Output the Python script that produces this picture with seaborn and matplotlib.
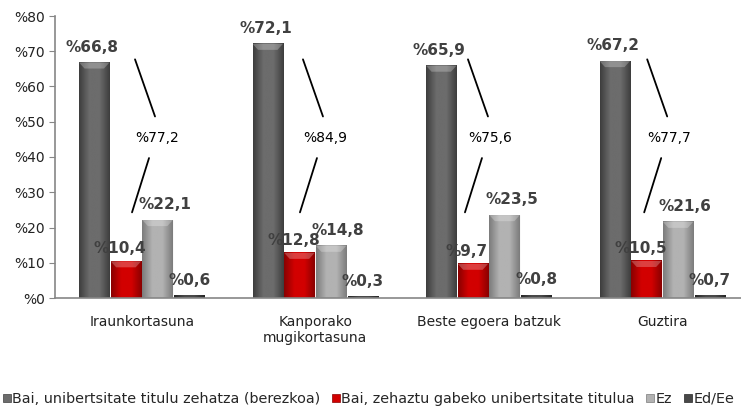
import numpy as np
import pandas as pd
import matplotlib
matplotlib.use("Agg")
import matplotlib.pyplot as plt
import seaborn as sns
from matplotlib.colors import LinearSegmentedColormap
from matplotlib.patches import Patch, Polygon

# Data
categories = ["Iraunkortasuna", "Kanporako\nmugikortasuna", "Beste egoera batzuk", "Guztira"]
series = ["Bai, unibertsitate titulu zehatza (berezkoa)",
          "Bai, zehaztu gabeko unibertsitate titulua", "Ez", "Ed/Ee"]
zehatza = [66.8, 72.1, 65.9, 67.2]
zehaztu_gabe = [10.4, 12.8, 9.7, 10.5]
ez = [22.1, 14.8, 23.5, 21.6]
ed_ee = [0.6, 0.3, 0.8, 0.7]
totals = [77.2, 84.9, 75.6, 77.7]

# styles: (edge colour, middle colour) for the shaded bars
shades = {
    series[0]: ("#3e3e3e", "#6c6c6c"),
    series[1]: ("#8a0000", "#d20000"),
    series[2]: ("#7c7c7c", "#b2b2b2"),
    series[3]: ("#262626", "#484848"),
}
label_dx = [-2, -6, 7, 0]      # pixel shift of value labels per series
label_dy = [8, 5, 8, 8]
total_dx = [0.088, 0.056, 0.007, 0.04]  # sum label shift per group (category units)

sns.set_style("white")
plt.rcParams["font.family"] = ["DejaVu Sans"]

df = pd.DataFrame({
    "kategoria": np.repeat(categories, 4),
    "seriea": series * len(categories),
    "balioa": [v for row in zip(zehatza, zehaztu_gabe, ez, ed_ee) for v in row],
})

fig = plt.figure(figsize=(7.41, 4.07), dpi=100)
ax = fig.add_axes([55 / 741, 1 - 298 / 407, 694 / 741, 282 / 407])

palette = {s: shades[s][1] for s in series}
sns.barplot(data=df, x="kategoria", y="balioa", hue="seriea", hue_order=series,
            order=categories, palette=palette, width=0.73, gap=0.04,
            saturation=1, legend=False, ax=ax, zorder=2)

px = 1 / 173.5  # one pixel in category units
slot = 0.73 / 4
for p in list(ax.patches):
    x0, w, h = p.get_x(), p.get_width(), p.get_height()
    xc = x0 + w / 2
    cat = int(round(xc))
    si = int(round((xc - cat + 0.365) / slot - 0.5))
    edge, mid = shades[series[si]]
    cmap = LinearSegmentedColormap.from_list("b", [edge, mid, mid, edge])
    ax.imshow(np.linspace(0, 1, 50)[np.newaxis, :], extent=(x0, x0 + w, 0, h),
              cmap=cmap, aspect="auto", zorder=2.1, interpolation="bilinear")
    bev = 1.7
    if h > 2 * bev:
        top = Polygon([(x0, h), (x0 + w, h), (x0 + w - 0.18 * w, h - bev),
                       (x0 + 0.18 * w, h - bev)],
                      closed=True, facecolor="white", alpha=0.25, lw=0, zorder=2.2)
        ax.add_patch(top)
    p.set_edgecolor("white")
    p.set_linewidth(0.6)
    ax.annotate(f"%{h:.1f}".replace(".", ","), (xc, h),
                xytext=(label_dx[si], label_dy[si]), textcoords="offset pixels",
                ha="center", va="bottom", fontsize=11, fontweight="bold",
                color="#404040", zorder=3)

# sum labels with their leader lines
for i, t in enumerate(totals):
    lx = i + total_dx[i]
    ax.text(lx, 45.5, f"%{t:.1f}".replace(".", ","), ha="center", va="center",
            fontsize=10, color="black", zorder=4)
    ax.plot([lx - 22 * px, lx - 2 * px], [67.7, 51.5], color="black", lw=1.3, zorder=4)
    ax.plot([lx - 8 * px, lx - 25 * px], [39.7, 24.3], color="black", lw=1.3, zorder=4)

ax.set_xlim(-0.5, 3.5)
ax.set_ylim(0, 80)
ax.set_yticks(range(0, 81, 10))
ax.set_yticklabels([f"%{v}" for v in range(0, 81, 10)], fontsize=10, color="#222222")
ax.set_xticks([0.5, 1.5, 2.5], minor=True)
ax.set_xticklabels(categories, fontsize=10, color="#222222")
ax.tick_params(axis="x", which="major", length=0, pad=12)
ax.tick_params(axis="x", which="minor", length=4, color="#868686", direction="out")
ax.tick_params(axis="y", length=4, color="#868686", direction="out", pad=3, left=True)
ax.set_xlabel("")
ax.set_ylabel("")
for side in ["top", "right"]:
    ax.spines[side].set_visible(False)
for side in ["left", "bottom"]:
    ax.spines[side].set_color("#868686")
    ax.spines[side].set_linewidth(1.2)

handles = [Patch(facecolor=shades[s][1], edgecolor=shades[s][0], lw=0.5) for s in series]
fig.legend(handles, series, loc="center left", bbox_to_anchor=(0.0, 1 - 399 / 407),
           bbox_transform=fig.transFigure, ncol=4, frameon=False, fontsize=10.4,
           handlelength=0.55, handleheight=0.55, handletextpad=0.1,
           columnspacing=0.8, borderaxespad=0, borderpad=0.2)

fig.savefig("out.png", dpi=100)
